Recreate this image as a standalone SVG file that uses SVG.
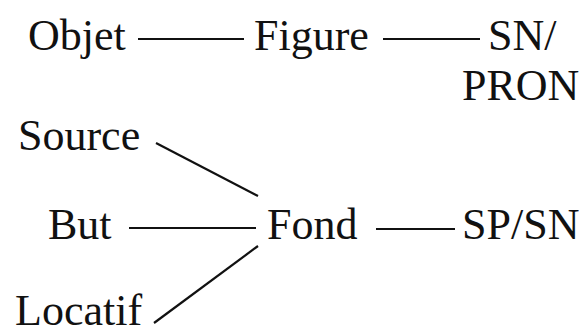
<svg xmlns="http://www.w3.org/2000/svg" width="587" height="335" viewBox="0 0 587 335">
<style>
.t{font-family:"Liberation Serif","Times New Roman",Times,serif;font-size:44px;fill:#111;}
.c line{stroke:#111;stroke-width:2.2;stroke-linecap:butt;}
</style>
<rect width="587" height="335" fill="#fff"/>
<g class="c" id="connectors">
<line x1="138" y1="39" x2="244" y2="39"/>
<line x1="383" y1="39" x2="480" y2="39"/>
<line x1="156" y1="143" x2="258" y2="196"/>
<line x1="129" y1="228" x2="256" y2="228"/>
<line x1="376" y1="229" x2="455" y2="229"/>
<line x1="154" y1="323" x2="258" y2="246"/>
</g>
<g id="objet"><text class="t" x="28" y="50">Objet</text></g>
<g id="figure"><text class="t" x="254" y="50">Figure</text></g>
<g id="sn-pron"><text class="t" x="488" y="50">SN/</text><text class="t" x="462" y="100">PRON</text></g>
<g id="source"><text class="t" x="18" y="150">Source</text></g>
<g id="but"><text class="t" x="48" y="239">But</text></g>
<g id="fond"><text class="t" x="267" y="239">Fond</text></g>
<g id="sp-sn"><text class="t" x="462" y="239">SP/SN</text></g>
<g id="locatif"><text class="t" x="15" y="325">Locatif</text></g>
</svg>
